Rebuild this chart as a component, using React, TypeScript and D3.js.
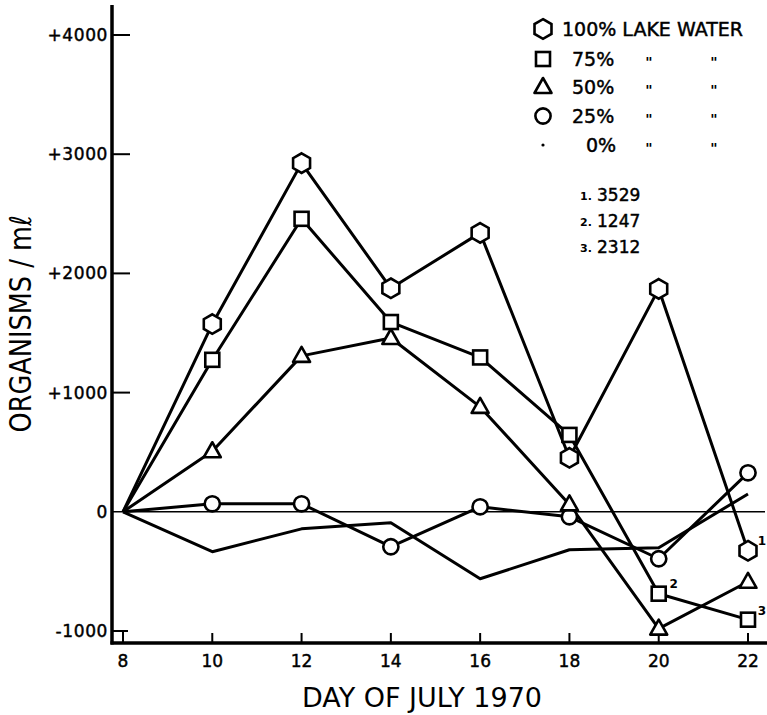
import React from "react";
import * as d3 from "d3";

const days = [8, 10, 12, 14, 16, 18, 20, 22];
const lake100 = [0, 1575, 2925, 1875, 2340, 453, 1870, -327];
const lake75 = [0, 1275, 2458, 1592, 1295, 645, -687, -905];
const lake50 = [0, 508, 1308, 1458, 880, 62, -980, -587];
const lake25 = [0, 67, 67, -293, 42, -42, -394, 327];
const lake0 = [0, -335, -143, -92, -562, -318, -302, 150];

const yTicks = [-1000, 0, 1000, 2000, 3000, 4000];
const yTickLabels = ["-1000", "0", "+1000", "+2000", "+3000", "+4000"];
const xTicks = [8, 10, 12, 14, 16, 18, 20, 22];

const legendLabels = ["100% LAKE WATER", "75%", "50%", "25%", "0%"];
const footnotes = [
  { n: "1.", v: "3529" },
  { n: "2.", v: "1247" },
  { n: "3.", v: "2312" },
];

type Shape = "hex" | "square" | "tri" | "circle" | "dot";

const series: { values: number[]; shape: Shape }[] = [
  { values: lake0, shape: "dot" },
  { values: lake25, shape: "circle" },
  { values: lake50, shape: "tri" },
  { values: lake75, shape: "square" },
  { values: lake100, shape: "hex" },
];

const FONT = "'DejaVu Sans', 'Liberation Sans', sans-serif";

function Marker({ shape, cx, cy }: { shape: Shape; cx: number; cy: number }) {
  const sw = 2.6;
  if (shape === "hex") {
    const r = 9.8;
    const pts = d3.range(6).map((i) => {
      const a = -Math.PI / 2 + (i * Math.PI) / 3;
      return [cx + r * Math.cos(a), cy + r * Math.sin(a)].join(",");
    });
    return <polygon points={pts.join(" ")} fill="white" stroke="black" strokeWidth={sw} />;
  }
  if (shape === "square") {
    const s = 14;
    return <rect x={cx - s / 2} y={cy - s / 2} width={s} height={s} fill="white" stroke="black" strokeWidth={sw} />;
  }
  if (shape === "tri") {
    const w = 17, h = 15;
    const pts = [
      [cx, cy - h * 0.6],
      [cx + w / 2, cy + h * 0.4],
      [cx - w / 2, cy + h * 0.4],
    ];
    return <polygon points={pts.map((p) => p.join(",")).join(" ")} fill="white" stroke="black" strokeWidth={sw} strokeLinejoin="round" />;
  }
  if (shape === "circle") {
    return <circle cx={cx} cy={cy} r={7.6} fill="white" stroke="black" strokeWidth={sw} />;
  }
  return <circle cx={cx} cy={cy} r={1.6} fill="black" />;
}

export default function App() {
  const x = d3.scaleLinear().domain([8, 22]).range([123, 748]);
  const y = d3.scaleLinear().domain([-1000, 4000]).range([631, 35]);
  const axisX = 112;
  const axisY = 643;

  const line = d3
    .line<number>()
    .x((_, i) => x(days[i]))
    .y((v) => y(v));

  const legendY = [29, 59, 87, 116, 145];
  const legendShapes: Shape[] = ["hex", "square", "tri", "circle", "dot"];
  const legendTextX = [562, 572, 572, 572, 586];
  const heavy = { stroke: "black", strokeWidth: 0.45 };

  return (
    <svg width={767} height={715} style={{ position: "absolute", left: 0, top: 0, background: "white" }}>
      <rect width={767} height={715} fill="white" />
      {/* zero line */}
      <line x1={axisX} x2={765} y1={y(0)} y2={y(0)} stroke="black" strokeWidth={1.6} />

      {/* axes */}
      <line x1={axisX} x2={axisX} y1={5} y2={axisY + 1.5} stroke="black" strokeWidth={3.5} />
      <line x1={axisX - 1.5} x2={767} y1={axisY} y2={axisY} stroke="black" strokeWidth={3.5} />

      {yTicks.map((t, i) => (
        <g key={"yt" + t}>
          {t !== 0 && (
            <line x1={axisX} x2={axisX + (t === -1000 ? 16 : 18)} y1={y(t)} y2={y(t)} stroke="black" strokeWidth={2} />
          )}
          <text
            x={108}
            y={y(t)}
            textAnchor="end"
            dominantBaseline="central"
            fontFamily={FONT}
            fontSize={17}
            letterSpacing={0.6}
            fill="black"
            {...heavy}
          >
            {yTickLabels[i]}
          </text>
        </g>
      ))}

      {xTicks.map((t) => (
        <g key={"xt" + t}>
          <line x1={x(t)} x2={x(t)} y1={axisY} y2={t === 8 ? y(-1000) : axisY - 10} stroke="black" strokeWidth={2} />
          <text x={x(t)} y={661} textAnchor="middle" dominantBaseline="central" fontFamily={FONT} fontSize={17} fill="black" {...heavy}>
            {t}
          </text>
        </g>
      ))}

      {/* axis titles */}
      <text
        x={422}
        y={707}
        textAnchor="middle"
        fontFamily={FONT}
        fontSize={26}
        textLength={240}
        lengthAdjust="spacingAndGlyphs"
        fill="black"
      >
        DAY OF JULY 1970
      </text>
      <text
        transform="translate(31,324) rotate(-90)"
        textAnchor="middle"
        fontFamily={FONT}
        fontSize={30}
        textLength={217}
        lengthAdjust="spacingAndGlyphs"
        fill="black"
      >
        ORGANISMS / mℓ
      </text>

      {/* series lines */}
      {series.map((s, i) => (
        <path key={"l" + i} d={line(s.values) || ""} fill="none" stroke="black" strokeWidth={3} strokeLinejoin="round" />
      ))}
      {/* markers */}
      {series.map((s, i) =>
        s.shape === "dot"
          ? null
          : s.values.map((v, j) =>
              j === 0 ? null : <Marker key={"m" + i + "-" + j} shape={s.shape} cx={x(days[j])} cy={y(v)} />
            )
      )}

      {/* point annotations */}
      <text x={x(22) + 14} y={y(lake100[7]) - 10} textAnchor="middle" dominantBaseline="central" fontFamily={FONT} fontSize={12} fontWeight="bold">1</text>
      <text x={x(20) + 15} y={y(lake75[6]) - 10} textAnchor="middle" dominantBaseline="central" fontFamily={FONT} fontSize={12} fontWeight="bold">2</text>
      <text x={x(22) + 14} y={y(lake75[7]) - 9} textAnchor="middle" dominantBaseline="central" fontFamily={FONT} fontSize={12} fontWeight="bold">3</text>

      {/* legend */}
      {legendLabels.map((lab, i) => (
        <g key={"lg" + i}>
          <Marker shape={legendShapes[i]} cx={543} cy={legendY[i]} />
          <text x={legendTextX[i]} y={legendY[i]} dominantBaseline="central" fontFamily={FONT} fontSize={19} fill="black" {...heavy}>
            {lab}
          </text>
          {i > 0 && (
            <>
              <text x={649} y={legendY[i] + 3} textAnchor="middle" dominantBaseline="central" fontFamily={FONT} fontSize={14} fontWeight="bold">"</text>
              <text x={714} y={legendY[i] + 3} textAnchor="middle" dominantBaseline="central" fontFamily={FONT} fontSize={14} fontWeight="bold">"</text>
            </>
          )}
        </g>
      ))}

      {footnotes.map((f, i) => (
        <g key={"fn" + i}>
          <text x={580} y={196 + i * 26} dominantBaseline="central" fontFamily={FONT} fontSize={11} fontWeight="bold">{f.n}</text>
          <text x={597} y={195 + i * 26} dominantBaseline="central" fontFamily={FONT} fontSize={17} {...heavy}>{f.v}</text>
        </g>
      ))}
    </svg>
  );
}
